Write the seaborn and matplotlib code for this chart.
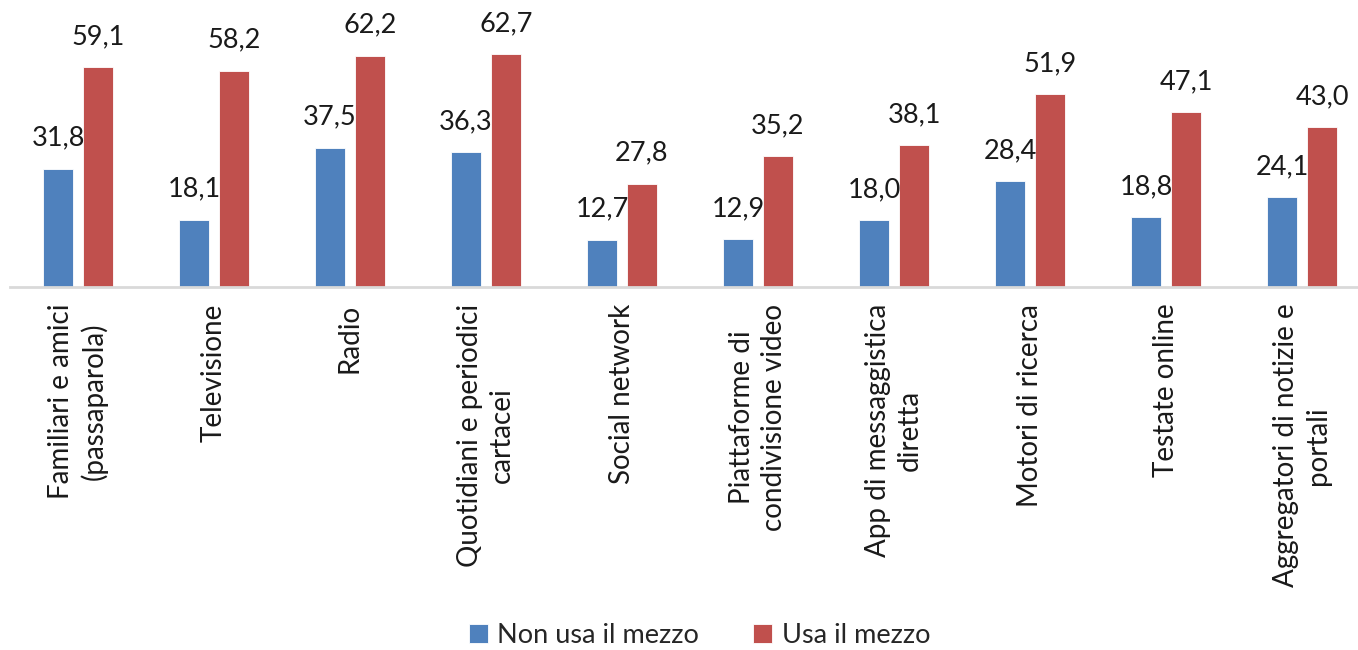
import numpy as np
import pandas as pd
import matplotlib
matplotlib.use('Agg')
import matplotlib.pyplot as plt
import seaborn as sns

categories = [
    'Familiari e amici\n(passaparola)',
    'Televisione',
    'Radio',
    'Quotidiani e periodici\ncartacei',
    'Social network',
    'Piattaforme di\ncondivisione video',
    'App di messaggistica\ndiretta',
    'Motori di ricerca',
    'Testate online',
    'Aggregatori di notizie e\nportali',
]
non_usa = [31.8, 18.1, 37.5, 36.3, 12.7, 12.9, 18.0, 28.4, 18.8, 24.1]
usa = [59.1, 58.2, 62.2, 62.7, 27.8, 35.2, 38.1, 51.9, 47.1, 43.0]
series = ['Non usa il mezzo', 'Usa il mezzo']
colors = ['#4F81BD', '#C0504D']

df = pd.DataFrame({
    'categoria': categories * 2,
    'valore': non_usa + usa,
    'serie': [series[0]] * len(categories) + [series[1]] * len(categories),
})

sns.set_style('white')
plt.rcParams['font.family'] = ['Lato', 'DejaVu Sans']

fig = plt.figure(figsize=(13.58, 6.5), dpi=100)
ax = fig.add_axes([10 / 1358, 1 - 287 / 650, 1360 / 1358, 287 / 650])

sns.barplot(data=df, x='categoria', y='valore', hue='serie', palette=colors,
            saturation=1, width=0.588, gap=0.25, ax=ax,
            edgecolor='white', linewidth=0.6)

# value labels, comma as decimal separator
for cont in ax.containers:
    for bar in cont:
        h = bar.get_height()
        ax.annotate(f'{h:.1f}'.replace('.', ','),
                    (bar.get_x() + bar.get_width() / 2, h),
                    xytext=(0, 13), textcoords='offset points',
                    ha='center', va='bottom', fontsize=19.5, color='#1a1a1a')

ax.set_ylim(0, 77.2)
ax.set_xlim(-0.5, 9.5)
ax.set_xlabel('')
ax.set_ylabel('')
ax.set_yticks([])
for s in ['top', 'right', 'left']:
    ax.spines[s].set_visible(False)
ax.spines['bottom'].set_color('#D9D9D9')
ax.spines['bottom'].set_linewidth(2)
ax.tick_params(axis='x', length=0, pad=12)
for lab in ax.get_xticklabels():
    lab.set_rotation(90)
    lab.set_ha('center')
    lab.set_va('top')
    lab.set_multialignment('center')
    lab.set_fontsize(20)
    lab.set_linespacing(1.3)
    lab.set_color('#1a1a1a')

ax.get_legend().remove()
handles, labels = ax.get_legend_handles_labels()
fig.legend(handles, labels, loc='center', bbox_to_anchor=(0.515, 0.022),
           ncol=2, frameon=False, fontsize=19.5, handlelength=0.7,
           handleheight=0.7, handletextpad=0.35, columnspacing=2.0)

fig.savefig('out.png', dpi=100)
